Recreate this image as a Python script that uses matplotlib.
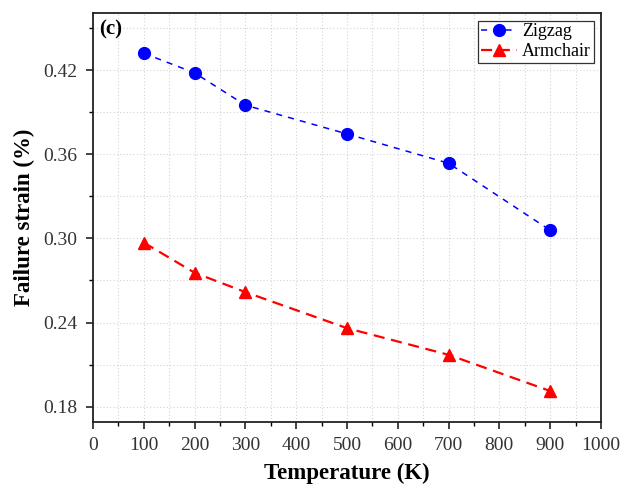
import matplotlib
matplotlib.use("Agg")
import matplotlib.pyplot as plt
from matplotlib.ticker import MultipleLocator

plt.rcParams['font.family'] = ['Liberation Serif', 'DejaVu Serif']

temps = [100, 200, 300, 500, 700, 900]
zigzag = [0.432, 0.418, 0.395, 0.3745, 0.3536, 0.3058]
armchair = [0.297, 0.2755, 0.2617, 0.236, 0.217, 0.1912]

fig = plt.figure(figsize=(6.26, 4.86), dpi=100)
ax = fig.add_axes([0.1486, 0.1323, 0.8114, 0.8403])

ax.plot(temps, zigzag, color='blue', linestyle=(0, (4, 4)), linewidth=1.1,
        marker='o', markersize=8.5, label='Zigzag')
ax.plot(temps, armchair, color='red', linestyle=(0, (5, 3)), linewidth=1.6,
        marker='^', markersize=8.5, label='Armchair')

ax.set_xlim(0, 1000)
ax.set_ylim(0.1693, 0.4605)
ax.xaxis.set_major_locator(MultipleLocator(100))
ax.xaxis.set_minor_locator(MultipleLocator(50))
ax.yaxis.set_major_locator(MultipleLocator(0.06))
ax.yaxis.set_minor_locator(MultipleLocator(0.03))
ax.yaxis.set_major_formatter(matplotlib.ticker.FormatStrFormatter('%.2f'))

ax.grid(True, which='both', color='#d4d4d4', linestyle=(0, (1, 2)), linewidth=0.8)
ax.set_axisbelow(True)

ax.tick_params(which='major', direction='out', length=5, width=1.2,
               labelsize=14, colors='#222222', labelcolor='#333333', pad=6)
ax.tick_params(which='minor', direction='out', length=3, width=1.0)
for s in ax.spines.values():
    s.set_linewidth(1.3)
    s.set_color('#222222')

ax.set_xlabel('Temperature (K)', fontsize=16.5, fontweight='bold', labelpad=6)
ax.set_ylabel('Failure strain (%)', fontsize=16.5, fontweight='bold', labelpad=6)

ax.text(0.012, 0.985, '(c)', transform=ax.transAxes, fontsize=15,
        fontweight='bold', va='top', ha='left')

leg = ax.legend(loc='upper right', fontsize=13, fancybox=False,
                edgecolor='#333333', framealpha=1, handlelength=2.0,
                borderpad=0.15, labelspacing=0.15, handletextpad=0.3,
                borderaxespad=0.4)
leg.get_frame().set_linewidth(0.9)

fig.savefig('out.png', dpi=100)
